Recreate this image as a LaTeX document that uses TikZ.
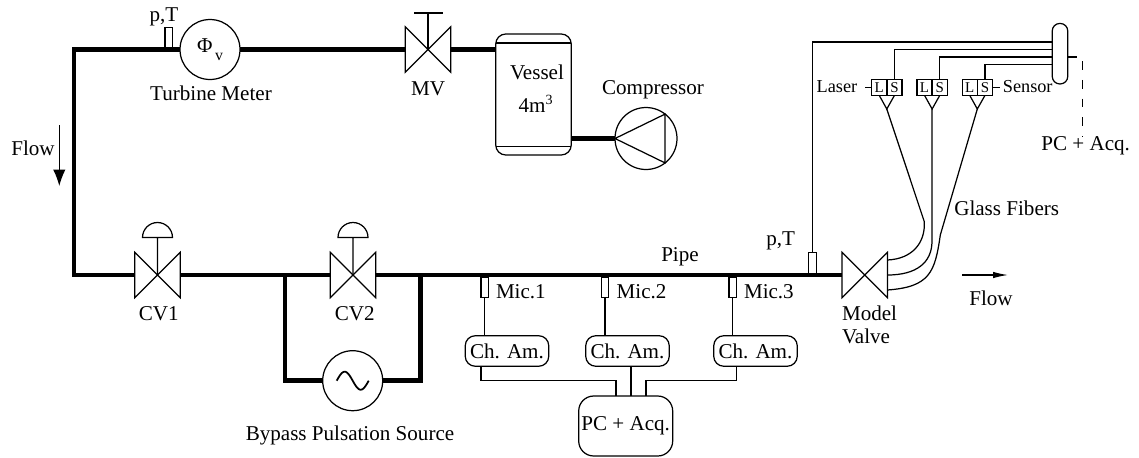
\documentclass[tikz,border=0pt]{standalone}
\usepackage{fontspec}
\setmainfont{Liberation Serif}
\usetikzlibrary{arrows.meta}

\tikzset{
    every node/.style={font=\fontsize{12}{14}\selectfont, inner sep=0pt, outer sep=0pt},
    thinline/.style={line width=0.7pt},
    pipe/.style={line width=2.8pt},
    valvebox/.style={minimum width=0.91cm, minimum height=0.91cm},
    sensorbox/.style={draw, thinline, minimum width=0.15cm, minimum height=0.41cm},
    circlebox/.style={draw, thinline, circle, minimum size=1.2cm},
    lsbox/.style={draw, thinline, minimum width=0.3cm, minimum height=0.32cm, font=\fontsize{8.5}{10}\selectfont},
    ampbox/.style={draw, thinline, rounded corners=0.2cm, minimum width=1.67cm, minimum height=0.61cm},
    smalllabel/.style={font=\fontsize{10.4}{12}\selectfont},
    flowleftarrow/.style={thinline, -{Latex[length=0.33cm, width=0.25cm]}},
    flowrightarrow/.style={thinline, -{Latex[length=0.3cm, width=0.13cm]}}
}

\begin{document}
\begin{tikzpicture}[x=0.02cm, y=-0.02cm]
    \useasboundingbox (0,0) rectangle (1139,457);

    % Valvulas
    \foreach \n/\x/\y in {mv/428/49.5, cv1/157.5/275, cv2/353/275, model/864.7/275} {
        \node[valvebox] (\n) at (\x,\y) {};
        \draw[thinline] (\n.north west) -- (\n.south east) -- (\n.north east) -- (\n.south west) -- cycle;
    }
    \foreach \n in {cv1, cv2} {
        \draw[thinline] (\n.center) -- ++(0,-37.5) ++(-15,0) arc[start angle=180, end angle=0, radius=0.3cm] -- cycle;
    }
    \draw[thinline] (mv.center) -- (428,13) coordinate (mvtop);
    \draw[line width=1pt] (414,13) -- (443,13);

    % Equipos
    \node[circlebox] (meter) at (210,49.5) {Φ\raisebox{-0.8ex}{\fontsize{9}{10}\selectfont\,v}};
    \node[circlebox, minimum size=1.24cm] (comp) at (646,138.5) {};
    \draw[thinline] (comp.west) -- (comp.52) -- (comp.-52) -- cycle;
    \node[circlebox] (source) at (352.7,380.7) {};
    \draw[domain=-16:16, samples=50, smooth, variable=\x, line width=1pt]
        plot ({352.7+\x},{380.7+9*sin(11.25*\x)});
    \node[draw, thinline, rounded corners=0.2cm, minimum width=1.51cm, minimum height=2.42cm] (vessel) at (533.5,94.5) {};
    \draw[thinline] (495.7,43) -- (571.3,43);
    \draw[thinline] (495.7,146.7) -- (571.3,146.7);

    % Tuberia
    \coordinate (topleft) at (74,49.5);
    \coordinate (botleft) at (74,275);
    \coordinate (bypassl) at (285,275);
    \coordinate (bypassr) at (420.7,275);
    \draw[pipe] (meter.west) -- (topleft) -- (botleft) -- (cv1.west);
    \draw[pipe] (meter.east) -- (mv.west);
    \draw[pipe] (mv.east) -- (vessel.west |- mv.east);
    \draw[pipe] (comp.west) -- (comp.west -| vessel.east);
    \draw[pipe] (cv1.east) -- (cv2.west);
    \draw[pipe] (cv2.east) -- (model.west);
    \draw[pipe] (bypassl) |- (source.west);
    \draw[pipe] (bypassr) |- (source.east);

    % Sensores p,T
    \node[sensorbox] (ptone) at (168.7,37.5) {};
    \node[sensorbox] (pttwo) at (812.5,263) {};

    % Microfonos y amplificadores
    \foreach \i/\x/\a/\l in {1/484.7/507/496, 2/605/627.5/616.7, 3/732.7/755.5/744} {
        \node[sensorbox] (mic\i) at (\x,287.5) {};
        \node[anchor=west] (miclabel\i) at (\l,292) {Mic.\i};
        \node[ampbox] (am\i) at (\a,351) {Ch. Am.};
        \draw[thinline] (mic\i.south) -- (mic\i.south |- am\i.north);
    }

    % Adquisicion
    \node[draw, thinline, rounded corners=0.3cm, minimum width=1.88cm, minimum height=1.2cm] (pc) at (625.7,426) {\raisebox{-1pt}{PC + Acq.}};
    \coordinate (amout1) at (481,366);
    \coordinate (amout3) at (736.7,366);
    \coordinate (pcin1) at (616,396);
    \coordinate (pcin2) at (631,396);
    \coordinate (pcin3) at (646,396);
    \draw[thinline] (amout1) |- (616,380.7) -- (pcin1);
    \draw[thinline] (amout3) |- (646,380.7) -- (pcin3);
    \draw[thinline] (pcin2) -- (pcin2 |- am2.south);

    % Barra de fibras
    \node[draw, thinline, rounded corners=0.15cm, minimum width=0.31cm, minimum height=1.21cm] (bus) at (1060,53.7) {};
    \coordinate (bus1) at (1052.3,42);
    \coordinate (bus2) at (1052.3,49.7);
    \coordinate (bus3) at (1052.3,57);
    \coordinate (bus4) at (1052.3,64.7);
    \coordinate (busout) at (1076.7,57);
    \coordinate (dashtop) at (1082.7,61);
    \draw[thinline] (pttwo.north) |- (bus1);
    \draw[thinline] (bus.east |- busout) -- (busout);

    % Laser y sensor
    \foreach \i/\x in {1/879.2, 2/924.5, 3/969.7} {
        \node[lsbox] (l\i) at (\x,87.3) {L};
        \node[lsbox] (s\i) at (\x+15.3,87.3) {S};
        \coordinate (fork\i) at (\x+7.6,109);
        \draw[thinline] (l\i.south) -- (fork\i) -- (s\i.south);
    }
    \draw[thinline] (s1.north) |- (bus2);
    \draw[thinline] (s2.north) |- (bus3);
    \draw[thinline] (s3.north) |- (bus4);

    % Fibras de vidrio
    \draw[thinline] (fork1) -- (924.3,221.7) .. controls (925.5,243) and (912,259) .. (887.3,260);
    \draw[thinline] (fork2) -- (932,241) .. controls (932,263) and (916,275) .. (model.east);
    \draw[thinline] (fork3) -- (940.3,235) .. controls (935,272) and (930,287) .. (887.3,290);

    % Etiquetas
    \node (ptlabelone) at (164,17) {p,T};
    \node (meterlabel) at (211,93) {Turbine Meter};
    \node (mvlabel) at (428,89) {MV};
    \node (vessellabel) at (537,72) {Vessel};
    \node (volumelabel) at (536,104) {4m\textsuperscript{3}};
    \node (complabel) at (653,90) {Compressor};
    \node (flowleft) at (33,148) {Flow};
    \node (cv1label) at (158.7,314) {CV1};
    \node (cv2label) at (354.7,314) {CV2};
    \node (sourcelabel) at (350,435) {Bypass Pulsation Source};
    \node (pipelabel) at (680,257) {Pipe};
    \node (ptlabeltwo) at (780.7,241) {p,T};
    \node[align=left, anchor=north west] (modellabel) at (842,306) {Model\\[-1pt]Valve};
    \node (flowright) at (991,298) {Flow};
    \node (fiberlabel) at (1006.7,208) {Glass Fibers};
    \node[smalllabel] (laserlabel) at (837,86.7) {Laser};
    \node[smalllabel] (sensorlabel) at (1027.7,86.7) {Sensor};
    \node (pclabel) at (1085.7,146) {PC + Acq.};

    % Flechas y guiones
    \coordinate (arrowa) at (59.3,125);
    \coordinate (arrowb) at (59.3,186);
    \coordinate (arrowc) at (962.3,275);
    \coordinate (arrowd) at (1008,275);
    \draw[flowleftarrow] (arrowa) -- (arrowb);
    \draw[flowrightarrow] (arrowc) -- (arrowd);
    \draw[thinline] (865,87.3) -- (l1.west);
    \draw[thinline] (s3.east) -- (1000,87.3);
    \draw[thinline, dash pattern=on 5pt off 5.7pt] (dashtop) -- (dashtop |- pclabel.north);
\end{tikzpicture}
\end{document}
